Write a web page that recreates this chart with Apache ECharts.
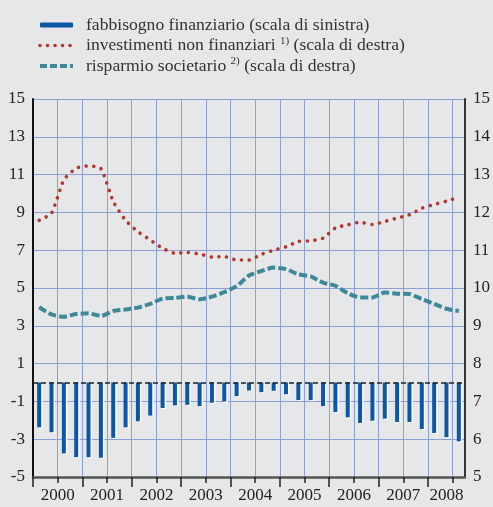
<!DOCTYPE html>
<html>
<head>
<meta charset="utf-8">
<script src="https://cdn.jsdelivr.net/npm/echarts@6/dist/echarts.min.js"></script>
<style>
html,body{margin:0;padding:0;background:#e6e7e8;}
#c{width:493px;height:507px;}
</style>
</head>
<body>
<div id="c"></div>
<script>
// Categories: quarters 2000Q1 .. 2008Q3
const years = ['2000','2001','2002','2003','2004','2005','2006','2007','2008'];
const quarters = [
 '2000Q1','2000Q2','2000Q3','2000Q4','2001Q1','2001Q2','2001Q3','2001Q4',
 '2002Q1','2002Q2','2002Q3','2002Q4','2003Q1','2003Q2','2003Q3','2003Q4',
 '2004Q1','2004Q2','2004Q3','2004Q4','2005Q1','2005Q2','2005Q3','2005Q4',
 '2006Q1','2006Q2','2006Q3','2006Q4','2007Q1','2007Q2','2007Q3','2007Q4',
 '2008Q1','2008Q2','2008Q3'];
// Year tick label positions (in quarter units along the axis)
const yearLabelPos = [2,6,10,14,18,22,26,30,33.5];
const yearBoundaryTicks = [0,4,8,12,16,20,24,28,32];
const midYearTicks = [2,6,10,14,18,22,26,30,34];

// fabbisogno finanziario (left scale)
const fabbisogno = [
 -2.37,-2.63,-3.75,-3.95,-3.95,-3.98,-2.93,-2.37,
 -2.05,-1.75,-1.35,-1.21,-1.18,-1.25,-1.07,-1.00,
 -0.72,-0.42,-0.51,-0.44,-0.62,-0.93,-0.93,-1.25,
 -1.56,-1.84,-2.14,-2.02,-1.91,-2.09,-2.09,-2.46,
 -2.67,-2.89,-3.11];
// investimenti non finanziari (right scale)
const investimenti = [
 11.79,11.98,12.86,13.17,13.23,13.16,12.29,11.79,
 11.49,11.27,11.05,10.92,10.94,10.90,10.82,10.83,
 10.74,10.74,10.89,11.00,11.09,11.23,11.25,11.32,
 11.59,11.67,11.74,11.68,11.76,11.85,11.94,12.11,
 12.21,12.30,12.40];
// risparmio societario (right scale)
const risparmio = [
 9.49,9.30,9.24,9.31,9.33,9.26,9.39,9.43,
 9.48,9.58,9.72,9.74,9.77,9.70,9.77,9.89,
 10.05,10.33,10.45,10.54,10.50,10.36,10.31,10.14,
 10.06,9.86,9.75,9.75,9.88,9.85,9.84,9.71,
 9.58,9.45,9.39];

const names = ['fabbisogno finanziario (scala di sinistra)',
               'investimenti non finanziari 1) (scala di destra)',
               'risparmio societario 2) (scala di destra)'];

const FONT = 'Liberation Serif';
const GRID = '#8d9fd6';
const RED = '#b3352c';
const TEAL = '#3e889a';
const chart = echarts.init(document.getElementById('c'), null, {renderer:'canvas'});
chart.setOption({
  backgroundColor: '#e6e7e8',
  animation: false,
  legend: {
    orient: 'vertical', left: 33, top: 10,
    itemWidth: 33, itemHeight: 5, itemGap: 0.5,
    data: [
      {name: names[0]},
      {name: names[1], itemStyle: {opacity: 0}, lineStyle: {width: 3.6, color: RED, type: [0.01, 7.5], cap: 'round'}},
      {name: names[2], itemStyle: {opacity: 0}, lineStyle: {width: 4, color: TEAL, type: [7, 3]}}
    ],
    textStyle: {fontFamily: FONT, fontSize: 17.6, color: '#333', lineHeight: 20, padding: [0,0,0,8],
      rich: { s: {fontFamily: FONT, fontSize: 11, color:'#333', verticalAlign: 'top', lineHeight: 20} } },
    formatter: function (n) {
      if (n === names[1]) return 'investimenti non finanziari {s|1)} (scala di destra)';
      if (n === names[2]) return 'risparmio societario {s|2)} (scala di destra)';
      return n;
    }
  },
  grid: {left: 33, right: 27, top: 99, bottom: 30, containLabel: false},
  xAxis: [
    {type: 'category', data: quarters, boundaryGap: true, show: false},
    {type: 'value', min: 0, max: 35, interval: 4, position: 'bottom',
     axisLine: {show: true, onZero: false, lineStyle: {color: '#555', width: 2.5}},
     axisTick: {show: true, inside: false, length: 10, customValues: yearBoundaryTicks, lineStyle: {color: '#222', width: 1.5}},
     axisLabel: {show: true, customValues: yearLabelPos, margin: 10, fontFamily: FONT, fontSize: 17, color: '#222',
       formatter: function (v) { return years[Math.floor(v / 4)]; }},
     splitLine: {show: true, lineStyle: {color: GRID, width: 1}}},
    {type: 'value', min: 0, max: 35, interval: 2, position: 'bottom',
     axisLine: {show: false, onZero: false},
     axisTick: {show: true, length: 6, customValues: midYearTicks, lineStyle: {color: '#222', width: 1.5}},
     axisLabel: {show: false},
     splitLine: {show: true, lineStyle: {color: GRID, width: 1}}}
  ],
  yAxis: [
    {type: 'value', min: -5, max: 15, interval: 2, position: 'left',
     axisLine: {show: true, onZero: false, lineStyle: {color: '#111', width: 2}},
     axisTick: {show: false},
     axisLabel: {margin: 8, fontFamily: FONT, fontSize: 17, color: '#222'},
     splitLine: {show: true, lineStyle: {color: GRID, width: 1}}},
    {type: 'value', min: 5, max: 15, interval: 1, position: 'right',
     axisLine: {show: true, onZero: false, lineStyle: {color: '#333', width: 2}},
     axisTick: {show: false},
     axisLabel: {margin: 8, fontFamily: FONT, fontSize: 17, color: '#222'},
     splitLine: {show: false}}
  ],
  series: [
    {name: names[0], type: 'bar', xAxisIndex: 0, yAxisIndex: 0, data: fabbisogno,
     barWidth: 4,
     itemStyle: {color: '#0b57a5', shadowColor: 'rgba(255,255,255,0.9)', shadowOffsetX: 1.5, shadowOffsetY: 1, shadowBlur: 0},
     markLine: {silent: true, symbol: 'none', label: {show: false},
       lineStyle: {color: '#222', width: 1.5, type: [5, 3]}, data: [{yAxis: 0}]}},
    {name: names[1], type: 'line', xAxisIndex: 0, yAxisIndex: 1, data: investimenti,
     symbol: 'none', showSymbol: false, smooth: 0.2, z: 3,
     itemStyle: {color: RED},
     lineStyle: {color: RED, width: 3.6, type: [0.01, 7.7], cap: 'round'}},
    {name: names[2], type: 'line', xAxisIndex: 0, yAxisIndex: 1, data: risparmio,
     symbol: 'none', showSymbol: false, smooth: 0.2, z: 3,
     itemStyle: {color: TEAL},
     lineStyle: {color: TEAL, width: 4, type: [8, 3], cap: 'butt'}}
  ]
});
</script>
</body>
</html>
